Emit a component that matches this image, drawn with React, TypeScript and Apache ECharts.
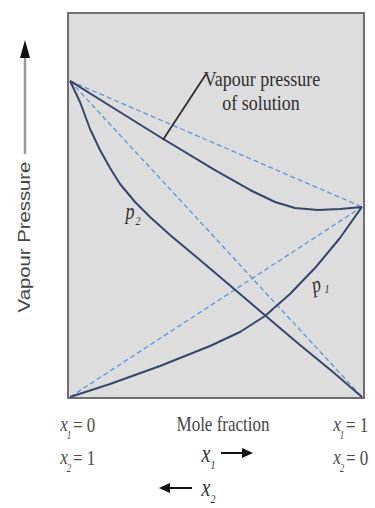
import React, { useEffect, useRef } from "react";
import * as echarts from "echarts";

// ---- data (x: mole fraction of component 1 in %, y: relative vapour pressure) ----
const P2_PURE = 82.3;
const P1_PURE = 49.5;

const idealP2: number[][] = [[0, P2_PURE], [100, 0]];
const idealP1: number[][] = [[0, 0], [100, P1_PURE]];
const idealTotal: number[][] = [[0, P2_PURE], [100, P1_PURE]];

const totalX = [0, 15.41, 30.82, 49.66, 61.64, 70.21, 77.05, 84.93, 92.47, 100];
const totalY = [82.3, 75.0, 67.71, 59.11, 53.91, 50.78, 49.22, 48.7, 48.96, 49.5];

const p2X = [0, 3.42, 6.85, 10.27, 13.7, 17.12, 22.26, 27.4, 34.25, 44.52, 55.82, 67.47, 78.77, 90.07, 100];
const p2Y = [82.3, 76.82, 69.79, 64.32, 59.64, 55.47, 50.78, 46.88, 42.19, 35.68, 28.39, 20.83, 13.54, 6.51, 0];

const p1X = [0, 13.7, 30.82, 47.95, 58.22, 66.78, 75.34, 83.9, 92.47, 100];
const p1Y = [0, 3.39, 8.07, 13.28, 16.93, 21.09, 26.82, 33.59, 41.41, 49.5];

const leaderX = [31.8, 46.6];
const leaderY = [66.9, 84.1];

const zip = (xs: number[], ys: number[]) => xs.map((x, i) => [x, ys[i]]);

const SERIF = '"Liberation Serif", "Times New Roman", serif';
const SANS = '"Liberation Sans", Arial, sans-serif';

function txt(
  text: string,
  x: number,
  y: number,
  font: string,
  fill: string,
  extra: any = {}
) {
  return {
    type: "text",
    x,
    y,
    scaleY: extra.scaleY ?? 1.28,
    scaleX: extra.scaleX ?? 1,
    rotation: extra.rotation ?? 0,
    z: 100,
    style: {
      text,
      x: 0,
      y: 0,
      font,
      fill,
      align: extra.align ?? "center",
      verticalAlign: "middle",
      textAlign: extra.align ?? "center",
      textVerticalAlign: "middle",
    },
  };
}

export default function App() {
  const ref = useRef<HTMLDivElement>(null);

  useEffect(() => {
    document.body.style.margin = "0";
    if (!ref.current) return;
    const chart = echarts.init(ref.current, null, { renderer: "svg" });

    const solid = { color: "#36466a", width: 2 };
    const dashed = { color: "#5a98d8", width: 1.3, type: [5, 3] as any };

    const labelColor = "#4a4a4a";

    const graphic: any[] = [
      // y axis title + arrow
      txt("Vapour Pressure", 24, 237, `16px ${SANS}`, "#444", {
        rotation: Math.PI / 2,
        scaleX: 1.27,
        scaleY: 1,
      }),
      {
        type: "line",
        shape: { x1: 25, y1: 154, x2: 25, y2: 56 },
        style: { stroke: "#9a9a9a", lineWidth: 2.5 },
      },
      {
        type: "polygon",
        shape: { points: [[20, 58], [30, 58], [25, 40]] },
        style: { fill: "#111" },
      },
      // annotation
      txt("Vapour pressure", 262, 79, `18px ${SERIF}`, "#2e2e2e", { scaleY: 1.15 }),
      txt("of solution", 261, 103, `18px ${SERIF}`, "#2e2e2e", { scaleY: 1.15 }),
      // p2 label
      txt("p", 130, 211, `italic 18px ${SERIF}`, "#333"),
      txt("2", 138, 221, `italic 10px ${SERIF}`, "#333"),
      // p1 label
      txt("p", 316, 284, `italic 18px ${SERIF}`, "#333", { rotation: 0.25 }),
      txt("1", 327, 289, `italic 10px ${SERIF}`, "#333"),
      // bottom labels - left
      txt("x", 64, 424, `italic 17px ${SERIF}`, labelColor),
      txt("1", 69, 435, `italic 9px ${SERIF}`, labelColor),
      txt("= 0", 73, 425, `17px ${SERIF}`, labelColor, { align: "left" }),
      txt("x", 64, 457, `italic 17px ${SERIF}`, labelColor),
      txt("2", 69, 468, `italic 9px ${SERIF}`, labelColor),
      txt("= 1", 73, 458, `17px ${SERIF}`, labelColor, { align: "left" }),
      // bottom labels - right
      txt("x", 337, 424, `italic 17px ${SERIF}`, labelColor),
      txt("1", 342, 435, `italic 9px ${SERIF}`, labelColor),
      txt("= 1", 346, 425, `17px ${SERIF}`, labelColor, { align: "left" }),
      txt("x", 337, 457, `italic 17px ${SERIF}`, labelColor),
      txt("2", 342, 468, `italic 9px ${SERIF}`, labelColor),
      txt("= 0", 346, 458, `17px ${SERIF}`, labelColor, { align: "left" }),
      // centre
      txt("Mole fraction", 223, 424, `17px ${SERIF}`, "#444"),
      txt("x", 206, 454, `italic 20px ${SERIF}`, "#333"),
      txt("1", 213, 465, `italic 10px ${SERIF}`, "#333"),
      {
        type: "line",
        shape: { x1: 221, y1: 453, x2: 244, y2: 453 },
        style: { stroke: "#111", lineWidth: 2 },
      },
      {
        type: "polygon",
        shape: { points: [[242, 448], [242, 458], [253, 453]] },
        style: { fill: "#111" },
      },
      {
        type: "line",
        shape: { x1: 168, y1: 488, x2: 192, y2: 488 },
        style: { stroke: "#111", lineWidth: 2 },
      },
      {
        type: "polygon",
        shape: { points: [[170, 483], [170, 493], [159, 488]] },
        style: { fill: "#111" },
      },
      txt("x", 206, 488, `italic 20px ${SERIF}`, "#333"),
      txt("2", 213, 499, `italic 10px ${SERIF}`, "#333"),
    ];

    const curve = { type: "line", symbol: "none", smooth: false, lineStyle: { ...solid, join: "round" } };

    chart.setOption({
      animation: false,
      grid: {
        left: 68,
        top: 13,
        width: 296,
        height: 385,
        show: true,
        backgroundColor: "#dddddd",
        borderColor: "#6f6f6f",
        borderWidth: 2,
      },
      xAxis: { type: "value", min: -0.7, max: 100.7, show: false },
      yAxis: { type: "value", min: -0.26, max: 100, show: false },
      graphic,
      series: [
        { type: "line", data: idealP2, symbol: "none", lineStyle: dashed },
        { type: "line", data: idealP1, symbol: "none", lineStyle: dashed },
        { type: "line", data: idealTotal, symbol: "none", lineStyle: dashed },
        { ...curve, data: zip(totalX, totalY) },
        { ...curve, data: zip(p2X, p2Y) },
        { ...curve, data: zip(p1X, p1Y) },
        {
          type: "line",
          data: zip(leaderX, leaderY),
          symbol: "none",
          lineStyle: { color: "#2e2e2e", width: 1.8 },
        },
      ],
    });

    return () => chart.dispose();
  }, []);

  return <div ref={ref} style={{ width: 375, height: 508 }} />;
}
